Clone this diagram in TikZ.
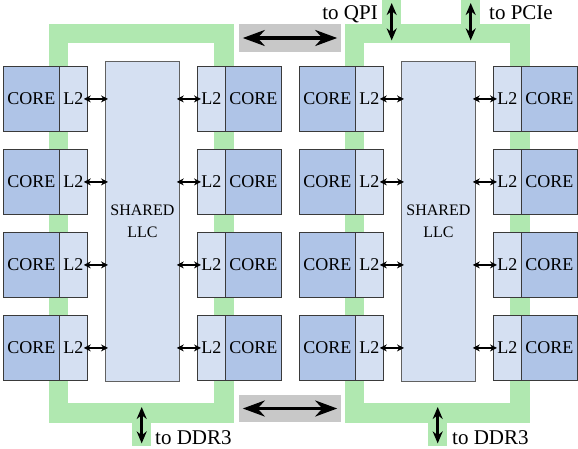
\documentclass[tikz,border=0pt]{standalone}
\usepackage{fontspec}
\setmainfont{Liberation Serif}
\newfontfamily\diagfont{Liberation Serif}
\usetikzlibrary{arrows.meta,calc}
\definecolor{corefill}{HTML}{AFC4E7}
\definecolor{l2fill}{HTML}{D5E0F2}
\definecolor{ringgreen}{HTML}{B0E8B0}
\definecolor{linkgray}{HTML}{C8C8C8}
\definecolor{edgecol}{HTML}{3A3A3A}
\begin{document}
\begin{tikzpicture}[x=1pt,y=-1pt,
  box/.style={draw=edgecol, line width=0.8pt, inner sep=0pt, minimum height=65pt, anchor=north west},
  corebox/.style={box, fill=corefill, minimum width=56pt, font=\diagfont\fontsize{18}{20}\selectfont},
  ltwo/.style={box, fill=l2fill, minimum width=28pt, font=\diagfont\fontsize{18}{20}\selectfont},
  llcbox/.style={draw=edgecol!80, line width=0.8pt, fill=l2fill, inner sep=0pt, anchor=north west, minimum width=74pt, minimum height=320pt, align=center, font=\diagfont\fontsize{16}{22}\selectfont},
  ring/.style={draw=ringgreen, line width=19.5pt},
  stub/.style={fill=ringgreen, inner sep=0pt, minimum width=19pt, minimum height=43pt, anchor=north west},
  linkbox/.style={fill=linkgray, inner sep=0pt, minimum width=102pt, minimum height=28pt},
  bigarrow/.style={line width=3.2pt, {Stealth[length=22pt,width=16pt]}-{Stealth[length=22pt,width=16pt]}},
  vertarrow/.style={line width=2.8pt, {Stealth[length=12pt,width=10pt]}-{Stealth[length=12pt,width=10pt]}},
  smallarrow/.style={line width=1.5pt, {Stealth[length=7pt,width=7pt]}-{Stealth[length=7pt,width=7pt]}},
  lbl/.style={font=\diagfont\fontsize{21}{24}\selectfont, inner sep=0pt}]
\useasboundingbox (0,0) rectangle (578,448);
% rings
\draw[ring] (58.5,33.5) rectangle (224,413);
\draw[ring] (354.5,33.5) rectangle (520,413);
% stubs
\node[stub] (sqpi) at (382,0) {};
\node[stub] (spcie) at (461,0) {};
\node[stub] (sddra) at (132,403) {};
\node[stub] (sddrb) at (428,403) {};
% gray links
\node[linkbox] (gtop) at (290,38) {};
\node[linkbox, minimum height=27pt] (gbot) at (290,408.5) {};
% halves
\foreach \h in {0,296} {
  \node[llcbox] (llc\h) at (105+\h,61) {SHARED\\LLC};
  \foreach \r in {0,...,3} {
    \pgfmathsetmacro\yy{66+83*\r}
    \node[corebox] (cl\h-\r) at (3+\h,\yy) {CORE};
    \node[ltwo] (ll\h-\r) at (59+\h,\yy) {L2};
    \node[ltwo] (rl\h-\r) at (197+\h,\yy) {L2};
    \node[corebox] (cr\h-\r) at (225+\h,\yy) {CORE};
    \draw[smallarrow] ([xshift=-4pt]ll\h-\r.east) -- ($(llc\h.west |- ll\h-\r.east)+(3,0)$);
    \draw[smallarrow] ($(llc\h.east |- rl\h-\r.west)+(-3,0)$) -- ([xshift=4pt]rl\h-\r.west);
  }
}
% big arrows
\draw[bigarrow] ([xshift=4pt]gtop.west) -- ([xshift=-4pt]gtop.east);
\draw[bigarrow] ([xshift=4pt]gbot.west) -- ([xshift=-4pt]gbot.east);
\draw[vertarrow] ([yshift=-3pt]sqpi.north) -- ([yshift=3pt]sqpi.south);
\draw[vertarrow] ([yshift=-3pt]spcie.north) -- ([yshift=3pt]spcie.south);
\draw[vertarrow] ([yshift=-4pt]sddra.north) -- ([yshift=3pt]sddra.south);
\draw[vertarrow] ([yshift=-4pt]sddrb.north) -- ([yshift=3pt]sddrb.south);
% labels
\node[lbl, anchor=base east] (tqpi) at (378,19) {to QPI};
\node[lbl, anchor=base west] (tpcie) at (489,19) {to PCIe};
\node[lbl, anchor=base west] (tddra) at (155,444) {to DDR3};
\node[lbl, anchor=base west] (tddrb) at (452,444) {to DDR3};
\end{tikzpicture}
\end{document}
